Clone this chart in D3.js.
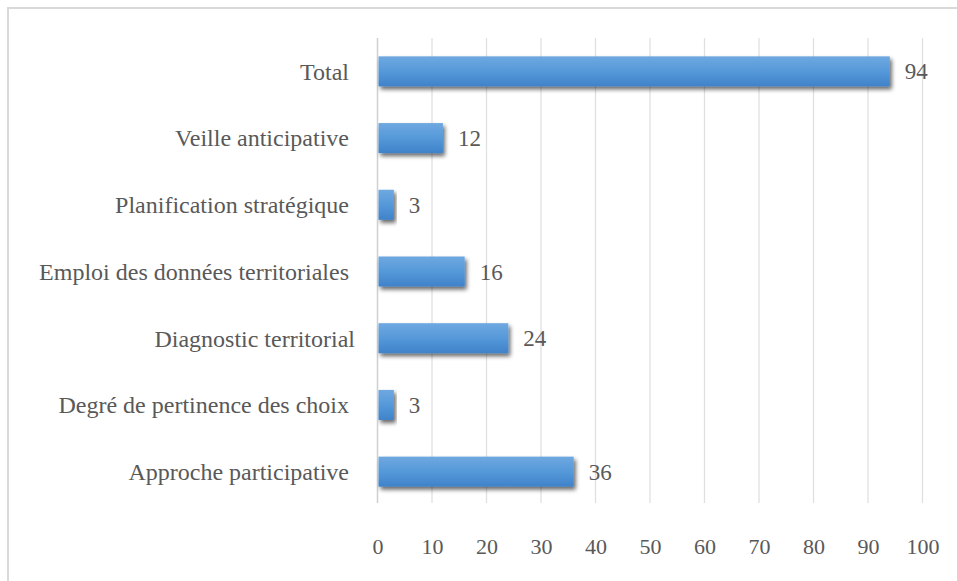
<!DOCTYPE html>
<html>
<head>
<meta charset="utf-8">
<script src="https://cdn.jsdelivr.net/npm/d3@7"></script>
<style>
  html, body { margin: 0; padding: 0; background: #fff; }
  svg { display: block; }
</style>
</head>
<body>
<svg id="chart" width="957" height="581"></svg>
<script>
// Categories, top to bottom (labels keep their trailing spaces)
const categories = [
  "Total ",
  "Veille anticipative ",
  "Planification stratégique ",
  "Emploi des données territoriales ",
  "Diagnostic territorial",
  "Degré de pertinence des choix ",
  "Approche participative "
];
const values = [94, 12, 3, 16, 24, 3, 36];
const xTicks = [0, 10, 20, 30, 40, 50, 60, 70, 80, 90, 100];

const W = 957, H = 581;
const plot = { left: 377.5, right: 922.5, top: 38, bottom: 505 };
const FONT = '"Liberation Serif"';
const INK = "#595959";

const svg = d3.select("#chart");

// Frame
svg.append("rect")
  .attr("x", 8).attr("y", 8)
  .attr("width", W + 10).attr("height", H + 10)
  .attr("fill", "#fff")
  .attr("stroke", "#d9d9d9").attr("stroke-width", 2);

const defs = svg.append("defs");
const grad = defs.append("linearGradient")
  .attr("id", "barGrad").attr("x1", 0).attr("y1", 0).attr("x2", 0).attr("y2", 1);
grad.append("stop").attr("offset", "0%").attr("stop-color", "#6fa8e0");
grad.append("stop").attr("offset", "50%").attr("stop-color", "#5599d9");
grad.append("stop").attr("offset", "100%").attr("stop-color", "#3f82c9");

const shadow = defs.append("filter").attr("id", "barShadow")
  .attr("x", "-10%").attr("y", "-30%").attr("width", "130%").attr("height", "180%");
shadow.append("feGaussianBlur").attr("in", "SourceAlpha").attr("stdDeviation", 2.2);
shadow.append("feOffset").attr("dx", 2).attr("dy", 3).attr("result", "off");
shadow.append("feComponentTransfer").append("feFuncA").attr("type", "linear").attr("slope", 0.6);
const merge = shadow.append("feMerge");
merge.append("feMergeNode");
merge.append("feMergeNode").attr("in", "SourceGraphic");

const x = d3.scaleLinear().domain([0, 100]).range([plot.left, plot.right]);
const y = d3.scaleBand().domain(categories).range([plot.top, plot.bottom]).paddingInner(0.55).paddingOuter(0.275);

// Vertical gridlines
svg.append("g").selectAll("line")
  .data(xTicks.slice(1))
  .join("line")
  .attr("x1", d => x(d)).attr("x2", d => x(d))
  .attr("y1", plot.top).attr("y2", plot.bottom - 2)
  .attr("stroke", "#e0e0e0").attr("stroke-width", 1.3);

// Category axis line
svg.append("line")
  .attr("x1", x(0)).attr("x2", x(0))
  .attr("y1", plot.top).attr("y2", plot.bottom - 2)
  .attr("stroke", "#d0d0d0").attr("stroke-width", 1.5);

// Bars
svg.append("g").selectAll("rect")
  .data(categories)
  .join("rect")
  .attr("x", x(0) + 1)
  .attr("y", d => y(d))
  .attr("width", (d, i) => x(values[i]) - x(0) - 1)
  .attr("height", y.bandwidth())
  .attr("fill", "url(#barGrad)")
  .attr("filter", "url(#barShadow)");

// Value labels
svg.append("g").selectAll("text")
  .data(categories)
  .join("text")
  .attr("x", (d, i) => x(values[i]) + 15)
  .attr("y", d => y(d) + y.bandwidth() / 2)
  .attr("dy", "0.35em")
  .attr("font-family", "Liberation Serif")
  .style("font-family", FONT).style("font-size", "23px").style("fill", INK)
  .text((d, i) => values[i]);

// Category labels
svg.append("g").selectAll("text")
  .data(categories)
  .join("text")
  .attr("x", 355)
  .attr("y", d => y(d) + y.bandwidth() / 2)
  .attr("dy", "0.35em")
  .attr("text-anchor", "end")
  .attr("font-family", "Liberation Serif")
  .style("white-space", "pre")
  .style("font-family", FONT).style("font-size", "24px").style("fill", INK)
  .text(d => d);

// X axis tick labels
const xAxis = d3.axisBottom(x).tickValues(xTicks).tickSize(0).tickPadding(0);
const gx = svg.append("g").attr("transform", `translate(0,${546})`).call(xAxis)
  .attr("font-family", "Liberation Serif");
gx.select(".domain").remove();
gx.selectAll("text")
  .attr("dy", "0.35em")
  .attr("y", 0)
  .style("font-family", FONT).style("font-size", "22px").style("fill", INK);
</script>
</body>
</html>
